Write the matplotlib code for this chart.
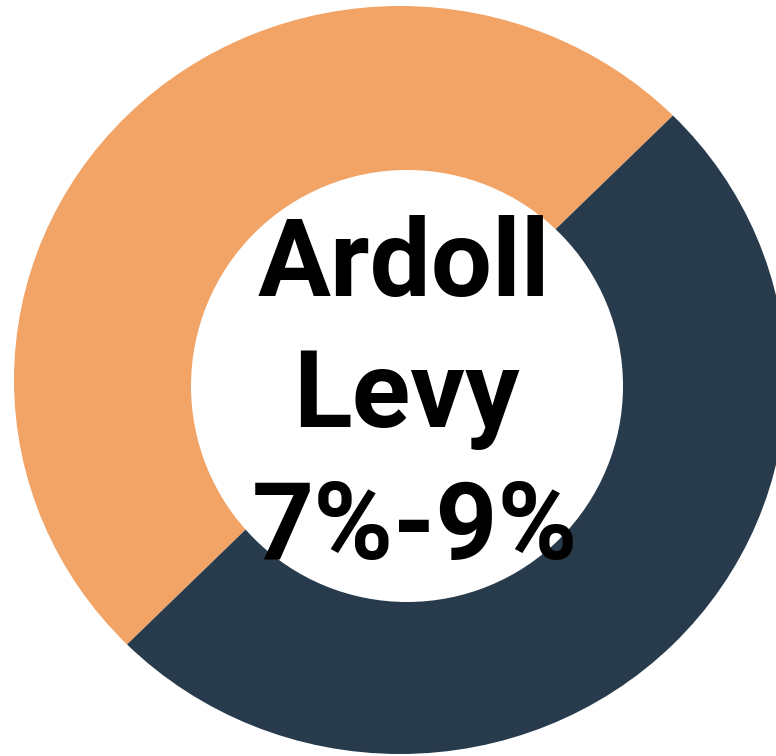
import matplotlib
matplotlib.use("Agg")
import matplotlib.pyplot as plt
from matplotlib.patches import Ellipse

# =====================================
# Daten
# =====================================

labels = ["Ardoll Levy", "Rest"]
values = [50, 50]
colors = ["#F2A467", "#283B4C"]
center_lines = ["Ardoll", "Levy", "7%-9%"]

# =====================================
# Layout (Pixel)
# =====================================

W, H = 776, 756
CX, CY = 400, 380          # Mittelpunkt Ring
RX, RY = 386, 374          # Radien Ring (leicht gestreckt)
HOLE_X, HOLE_Y, HOLE_R = 407, 386, 216

fig = plt.figure(figsize=(W / 100, H / 100), dpi=100)
ax = fig.add_axes([0, 0, 1, 1])

ax.pie(values, colors=colors, startangle=45, counterclock=True,
       radius=1, wedgeprops={"linewidth": 0})

# Achsen so, dass 1 Einheit = RX px horizontal, RY px vertikal
ax.set_xlim(-CX / RX, (W - CX) / RX)
ax.set_ylim(-(H - CY) / RY, CY / RY)
ax.set_aspect("auto")
ax.axis("off")

# weisses Loch in der Mitte
hole = Ellipse(((HOLE_X - CX) / RX, (CY - HOLE_Y) / RY),
               2 * HOLE_R / RX, 2 * HOLE_R / RY,
               facecolor="white", edgecolor="none", zorder=5)
ax.add_patch(hole)

# Text
baselines = [296, 427, 559]
xcenters = [404, 406, 415]
for line, yb, xc in zip(center_lines, baselines, xcenters):
    fig.text(xc / W, 1 - yb / H, line, ha="center", va="baseline",
             fontsize=78, fontweight="bold", family="Roboto",
             color="black", zorder=10)

fig.savefig("out.png", dpi=100)
plt.close(fig)
